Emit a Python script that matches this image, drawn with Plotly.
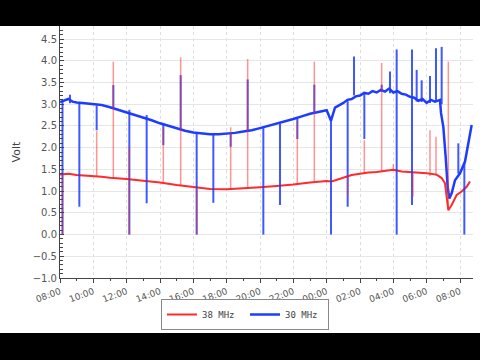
import pandas as pd
import plotly.graph_objects as go

START = pd.Timestamp("2013-01-01 08:00")

# ---- data (hours since 08:00, volts) ----
red_hours = [0.0, 0.5, 1.0, 1.5, 2.0, 2.5, 3.0, 3.5, 4.0, 5.0, 6.0, 7.0, 8.0, 9.0, 10.0,
             11.0, 12.0, 13.0, 14.0, 15.0, 16.0, 16.3, 16.7, 17.0, 17.5, 18.0, 18.5, 19.0,
             19.5, 20.0, 20.5, 21.0, 21.5, 22.0, 22.6, 22.9, 23.1, 23.3, 23.5, 23.8,
             24.1, 24.4, 24.6]
red_volts = [1.38, 1.40, 1.37, 1.36, 1.34, 1.33, 1.31, 1.30, 1.28, 1.24, 1.20, 1.14, 1.09, 1.05, 1.04,
             1.06, 1.09, 1.12, 1.15, 1.20, 1.23, 1.22, 1.27, 1.32, 1.37, 1.40, 1.43, 1.44,
             1.47, 1.49, 1.45, 1.44, 1.42, 1.41, 1.38, 1.30, 1.18, 0.56, 0.68, 0.91,
             0.99, 1.10, 1.22]

blue_hours = [0.0, 0.25, 0.5, 0.75, 1.0, 1.5, 2.0, 2.5, 3.0, 3.5, 4.0, 4.5, 5.0, 5.5, 6.0,
              6.5, 7.0, 7.5, 8.0, 8.5, 9.0, 9.5, 10.0, 10.5, 11.0, 11.5, 12.0, 12.5, 13.0,
              13.5, 14.0, 14.5, 15.0, 15.5, 16.0, 16.26, 16.5, 17.0, 17.25, 17.5, 17.75,
              18.0, 18.25, 18.5, 18.75, 19.0, 19.25, 19.5, 19.75, 20.0, 20.25, 20.5,
              20.75, 21.0, 21.25, 21.5, 21.75, 22.0, 22.25, 22.5, 22.8, 22.86, 23.0,
              23.14, 23.26, 23.36, 23.5, 23.7, 24.0, 24.3, 24.5, 24.7]
blue_volts = [3.05, 3.08, 3.12, 3.06, 3.04, 3.02, 3.00, 2.98, 2.93, 2.87, 2.82, 2.76, 2.70, 2.63, 2.56,
              2.50, 2.44, 2.39, 2.35, 2.33, 2.31, 2.31, 2.32, 2.34, 2.37, 2.40, 2.45, 2.50, 2.55,
              2.60, 2.66, 2.72, 2.78, 2.82, 2.86, 2.62, 2.92, 3.03, 3.10, 3.12, 3.18,
              3.20, 3.26, 3.24, 3.30, 3.27, 3.33, 3.29, 3.36, 3.27, 3.30, 3.24,
              3.22, 3.17, 3.15, 3.08, 3.12, 3.03, 3.10, 3.06, 3.10, 2.80, 2.48,
              1.79, 1.10, 0.83, 0.95, 1.25, 1.41, 1.68, 2.10, 2.52]

# spikes: hour, low, high
red_spike_hours = [0.15, 2.2, 3.2, 4.16, 6.2, 7.24, 8.2, 10.24, 11.26, 14.24, 15.26,
                   17.26, 18.26, 19.3, 20.0, 21.18, 22.2, 22.56, 23.3]
red_spike_low = [0.0, 1.35, 1.30, 0.0, 1.20, 1.12, 0.0, 1.05, 1.06, 1.16, 1.23,
                 0.90, 1.40, 1.45, 1.47, 0.87, 1.35, 1.35, 0.56]
red_spike_high = [1.38, 2.38, 3.98, 2.02, 2.45, 4.08, 1.07, 2.47, 4.04, 2.60, 3.98,
                  1.37, 2.17, 3.95, 1.62, 1.41, 2.40, 2.25, 3.98]

blue_spike_hours = [0.15, 0.6, 1.16, 2.2, 3.2, 4.16, 5.2, 6.2, 7.24, 8.2, 9.2, 10.24,
                    11.26, 12.2, 13.2, 14.24, 15.26, 16.26, 17.26, 17.64, 18.26, 19.3,
                    19.8, 20.2, 21.12, 21.4, 21.7, 22.2, 22.56, 22.9, 23.9, 24.26]
blue_spike_low = [0.0, 3.02, 0.64, 2.40, 2.90, 0.0, 0.72, 2.06, 2.40, 0.0, 0.73, 2.02,
                  2.39, 0.0, 0.68, 2.20, 2.80, 0.0, 0.64, 3.20, 2.20, 3.28,
                  3.25, 0.0, 0.68, 3.06, 3.05, 3.03, 3.05, 3.00, 1.40, 0.0]
blue_spike_high = [3.05, 3.22, 3.02, 2.97, 3.44, 2.87, 2.75, 2.55, 3.67, 2.35, 2.31, 2.33,
                   3.57, 2.47, 2.56, 2.67, 3.45, 2.64, 3.07, 4.10, 3.25, 3.45,
                   3.75, 4.26, 4.26, 3.79, 3.55, 3.65, 4.29, 4.32, 2.10, 1.65]

RED = "#ff2a2a"
BLUE = "#1d3cff"


def ts(hours):
    return [START + pd.Timedelta(hours=h) for h in hours]


def spike_xy(hours, lows, highs):
    xs, ys = [], []
    for h, lo, hi in zip(hours, lows, highs):
        t = START + pd.Timedelta(hours=h)
        xs += [t, t, None]
        ys += [lo, hi, None]
    return xs, ys


fig = go.Figure()
fig.add_trace(go.Scatter(x=ts(red_hours), y=red_volts, mode="lines", name="38 MHz",
                         line=dict(color=RED, width=2)))
fig.add_trace(go.Scatter(x=ts(blue_hours), y=blue_volts, mode="lines", name="30 MHz",
                         line=dict(color=BLUE, width=2.5)))
bx, by = spike_xy(blue_spike_hours, blue_spike_low, blue_spike_high)
fig.add_trace(go.Scatter(x=bx, y=by, mode="lines", showlegend=False, hoverinfo="skip",
                         line=dict(color="rgba(29,60,255,0.85)", width=2)))
rx, ry = spike_xy(red_spike_hours, red_spike_low, red_spike_high)
fig.add_trace(go.Scatter(x=rx, y=ry, mode="lines", showlegend=False, hoverinfo="skip",
                         line=dict(color="rgba(255,42,42,0.5)", width=1.5)))

L, R, T, B = 60, 7, 26, 82
W, H = 480, 360
pw, ph = W - L - R, H - T - B


def px_x(p):
    return (p - L) / pw


def px_y(p):
    return (H - B - p) / ph


shapes = [
    # letterbox bars
    dict(type="rect", xref="paper", yref="paper", x0=-0.3, x1=1.3, y0=1.0, y1=px_y(-5),
         fillcolor="black", line=dict(width=0), layer="above"),
    dict(type="rect", xref="paper", yref="paper", x0=-0.3, x1=1.3, y0=px_y(333), y1=px_y(365),
         fillcolor="black", line=dict(width=0), layer="above"),
]

fig.update_layout(
    width=W, height=H,
    margin=dict(l=L, r=R, t=T, b=B),
    paper_bgcolor="white", plot_bgcolor="white",
    font=dict(family="DejaVu Sans", size=10, color="#444"),
    showlegend=True,
    legend=dict(orientation="h", x=px_x(245), xanchor="center", y=px_y(299), yanchor="top",
                bgcolor="white", bordercolor="#888", borderwidth=1,
                font=dict(family="DejaVu Sans Mono", size=9, color="#444"),
                itemwidth=30, entrywidth=38, tracegroupgap=0),
    shapes=shapes,
)
fig.update_xaxes(
    type="date",
    range=[START, START + pd.Timedelta(hours=24.78)],
    tick0=START, dtick=2 * 3600 * 1000, tickformat="%H:%M", tickangle=-20,
    ticks="outside", ticklen=4, tickcolor="#444",
    minor=dict(dtick=3600 * 1000, ticks="outside", ticklen=2, tickcolor="#444", showgrid=False),
    showline=True, linecolor="#444", linewidth=1,
    showgrid=True, gridcolor="#dddddd", griddash="dot",
    tickfont=dict(size=9, color="#555"), zeroline=False,
)
fig.update_yaxes(
    range=[-1.0, 4.8], dtick=0.5, tick0=0, tickformat=".1f",
    ticks="inside", ticklen=4, tickcolor="#444",
    minor=dict(dtick=0.1, ticks="inside", ticklen=3, tickcolor="#444", showgrid=False),
    showline=True, linecolor="#444", linewidth=1,
    showgrid=True, gridcolor="#e6e6e6", zeroline=False,
    tickfont=dict(size=10, color="#555"),
    title=dict(text="Volt", font=dict(size=11, color="#444"), standoff=9),
)

fig.write_html("out.html", config={"displayModeBar": False},
               post_script="document.body.style.margin='0';document.body.style.padding='0';")
